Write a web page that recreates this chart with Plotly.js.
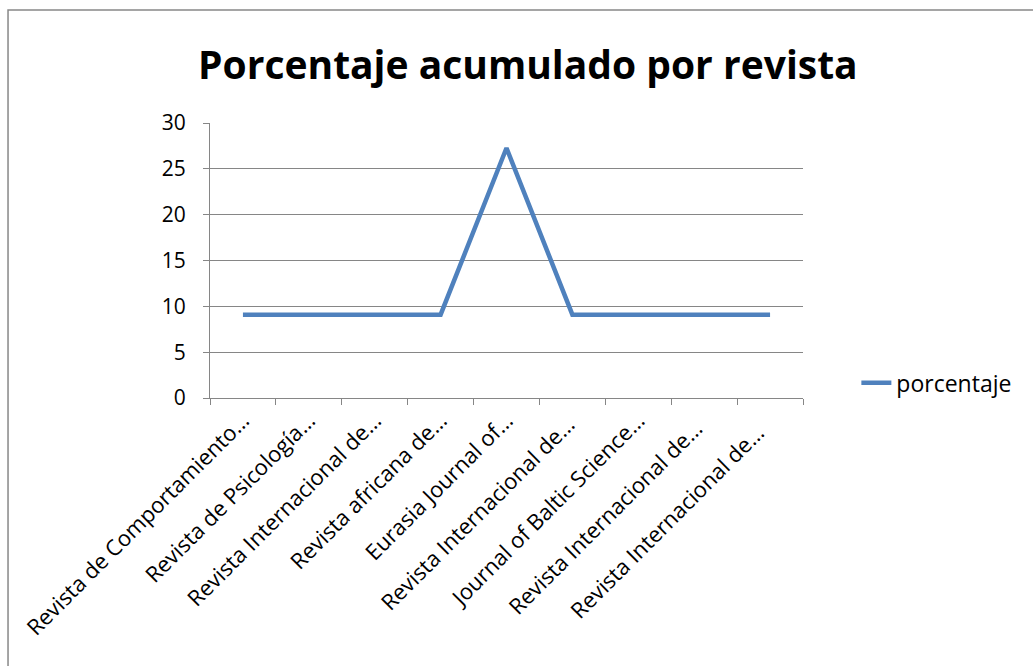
<!DOCTYPE html>
<html><head><meta charset="utf-8">
<script src="https://cdn.plot.ly/plotly-3.0.1.min.js"></script>
<style>html,body{margin:0;padding:0;background:#fff}#chart{width:1033px;height:666px}</style>
</head><body><div id="chart"></div>
<script>
const categories = [
  "Revista de Comportamiento…",
  "Revista de Psicología…",
  "Revista Internacional de…",
  "Revista africana de…",
  "Eurasia Journal of…",
  "Revista Internacional de… ",
  "Journal of Baltic Science…",
  "Revista Internacional de…  ",
  "Revista Internacional de…   "
];
const porcentaje = [9.09, 9.09, 9.09, 9.09, 27.27, 9.09, 9.09, 9.09, 9.09];
const yTicks = [0, 5, 10, 15, 20, 25, 30];

const font = "'Open Sans', 'DejaVu Sans', sans-serif";
const trace = {
  type: "scatter", mode: "lines", name: "porcentaje",
  x: categories, y: porcentaje,
  line: {color: "#4F81BD", width: 4.5}
};
const layout = {
  width: 1033, height: 666,
  margin: {l: 210, r: 230, t: 123, b: 268},
  paper_bgcolor: "#fff", plot_bgcolor: "#fff",
  font: {family: font, color: "#000"},
  title: {
    text: "<b>Porcentaje acumulado por revista</b>",
    font: {family: font, size: 39, color: "#000"},
    xref: "container", x: 0.511, xanchor: "center",
    yref: "container", y: 0.902, yanchor: "middle"
  },
  xaxis: {
    type: "category", tickson: "boundaries",
    showgrid: false, showline: true, linecolor: "#868686", linewidth: 1,
    ticks: "outside", ticklen: 6, tickcolor: "#868686",
    tickangle: -45, tickfont: {family: font, size: 22, color: "#000"},
    range: [-0.5, 8.5], fixedrange: true
  },
  yaxis: {
    range: [0, 30], tickvals: yTicks, ticktext: yTicks.map(String),
    showgrid: true, gridcolor: "#868686", gridwidth: 1,
    showline: true, linecolor: "#868686", linewidth: 1,
    ticks: "outside", ticklen: 6, tickcolor: "#868686",
    ticklabelstandoff: 13,
    tickfont: {family: font, size: 21, color: "#000"},
    zeroline: false, fixedrange: true
  },
  showlegend: true,
  legend: {
    x: 1.09, xanchor: "left", y: 0.055, yanchor: "middle",
    font: {family: font, size: 23, color: "#000"},
    bgcolor: "rgba(0,0,0,0)", itemwidth: 30
  },
  shapes: [{
    type: "rect", xref: "paper", yref: "paper",
    x0: -0.3406, x1: 1.6, y0: -1.1, y1: 1.411,
    line: {color: "#888888", width: 1.5}, fillcolor: "rgba(0,0,0,0)", layer: "below"
  }]
};
Plotly.newPlot("chart", [trace], layout, {displayModeBar: false, staticPlot: true});
</script></body></html>
